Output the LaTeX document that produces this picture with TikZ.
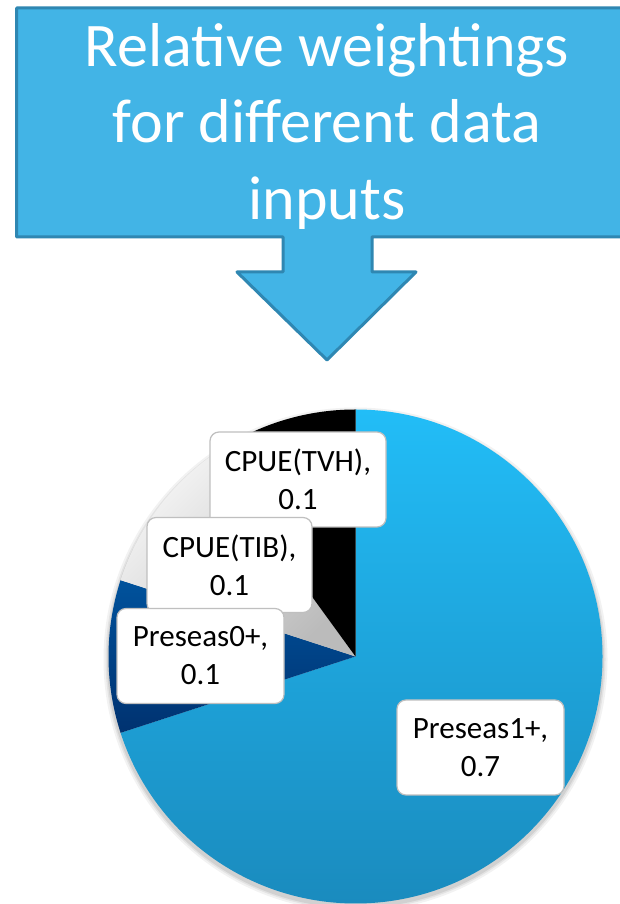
\documentclass[tikz,border=0pt]{standalone}
\usepackage{fontspec}
\setmainfont{Carlito}
\usetikzlibrary{calc}
\definecolor{calfill}{HTML}{42B4E6}
\definecolor{caldraw}{HTML}{2F87B2}
\definecolor{pOneTop}{HTML}{22BDF7}
\definecolor{pOneBot}{HTML}{1A8BBE}
\definecolor{pZeroTop}{HTML}{00529C}
\definecolor{pZeroBot}{HTML}{003270}
\definecolor{tibLight}{HTML}{F4F4F4}
\definecolor{tibDark}{HTML}{BBBBBB}
\definecolor{boxline}{HTML}{BFBFBF}
\tikzset{
  callout/.style={fill=calfill, draw=caldraw, line width=3pt, line join=round},
  titletext/.style={text=white, anchor=base, inner sep=0pt, font=\fontsize{62}{75}\selectfont},
  lblbox/.style={fill=white, draw=boxline, line width=1.2pt, rounded corners=9pt,
    align=center, inner sep=0pt, minimum width=#1, minimum height=95pt,
    font=\fontsize{31}{38}\selectfont, text=black},
}
\begin{document}
\begin{tikzpicture}[x=1pt,y=1pt]
\useasboundingbox (0,0) rectangle (620,904);
\fill[white] (0,0) rectangle (620,904);
% callout arrow
\draw[callout] (16.6,896) -- (640,896) -- (640,667) -- (372,667) -- (372,632)
  -- (416,632) -- (327,544) -- (237,632) -- (283,632) -- (283,667)
  -- (16.6,667) -- cycle;
\node[titletext] (t1) at (327,837) {Relative weightings};
\node[titletext] (t2) at (327,761) {for different data};
\node[titletext] (t3) at (327,684) {inputs};
% pie
\coordinate (c) at (355.5,247.5);
\foreach \o/\rr in {0.05/252,0.06/250,0.08/248.5}{
  \fill[black,opacity=\o] ($(c)+(0,-3)$) circle[radius=\rr];
}
\shade[top color=pOneTop, bottom color=pOneBot]
  (c) -- ++(90:247) arc[start angle=90, end angle=-162, radius=247] -- cycle;
\shade[top color=pZeroTop, bottom color=pZeroBot]
  (c) -- ++(162:247) arc[start angle=162, end angle=198, radius=247] -- cycle;
\shade[top color=tibLight, bottom color=tibDark, shading angle=45]
  (c) -- ++(126:247) arc[start angle=126, end angle=162, radius=247] -- cycle;
\fill[black]
  (c) -- ++(90:247) arc[start angle=90, end angle=126, radius=247] -- cycle;
% labels
\node[lblbox=176pt] (lTVH) at (298,424.5) {CPUE(TVH),\\0.1};
\node[lblbox=165pt] (lTIB) at (229.5,339) {CPUE(TIB),\\0.1};
\node[lblbox=167pt] (lP0) at (200.5,248) {Preseas0+,\\0.1};
\node[lblbox=167pt] (lP1) at (480.5,156.5) {Preseas1+,\\0.7};
\end{tikzpicture}
\end{document}
